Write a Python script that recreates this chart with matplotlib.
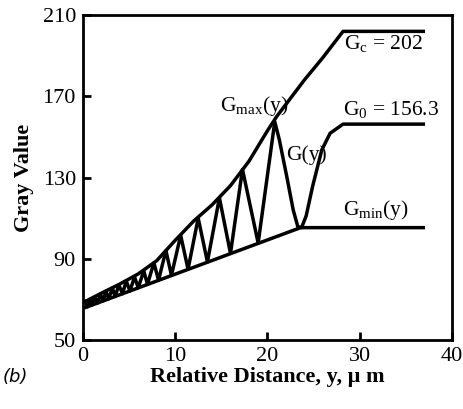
import matplotlib
matplotlib.use("Agg")
import matplotlib.pyplot as plt

plt.rcParams["font.family"] = ["Liberation Serif", "DejaVu Serif"]
plt.rcParams["mathtext.fontset"] = "custom"
plt.rcParams["mathtext.rm"] = "Liberation Serif"
plt.rcParams["mathtext.it"] = "Liberation Serif:italic"

# Envolvente superior G_max(y)
gmax_x = [0.3, 2, 4, 6, 8, 10, 12, 14, 16, 18, 20, 21, 22, 24, 26, 28.2, 36.9]
gmax_y = [69, 73, 77.5, 82.5, 89, 99, 108.5, 116.5, 126, 138, 153, 160, 166, 178, 189, 202, 202]

# Envolvente inferior G_min(y)
gmin_x = [0.3, 23.6, 36.9]
gmin_y = [66, 105.3, 105.3]

# Curva G(y): picos y valles
g_x = [0.3, 0.5, 0.8, 1.0, 1.3, 1.6, 1.9, 2.2, 2.5, 2.8, 3.2, 3.5, 3.9, 4.3, 4.7,
       5.1, 5.6, 6.0, 6.6, 7.0, 7.7, 8.2, 9.0, 9.6, 10.6, 11.4, 12.5, 13.5, 14.8,
       16.0, 17.3, 19.0, 20.8, 21.3, 22.1, 22.8, 23.3, 23.7, 24.2, 24.9, 25.9,
       26.8, 28.2, 36.9]
g_y = [69, 66.3, 70, 67.2, 71, 68.2, 72.5, 69.2, 74, 70.2, 75.5, 71.4, 77, 72.8, 79,
       74.1, 81, 75.7, 84, 77.4, 88, 79.4, 94, 81.8, 101.5, 84.8, 110, 88.4, 120,
       92.6, 134, 97.7, 157.5, 148.5, 130.5, 114, 105.8, 105.3, 111, 125.6, 143.6,
       151.8, 156.3, 156.3]

fig = plt.figure(figsize=(4.63, 4.09), dpi=100)
ax = fig.add_axes([0.179, 0.169, 0.797, 0.794])

ax.plot(gmax_x, gmax_y, color="black", lw=2.5, solid_joinstyle="round")
ax.plot(gmin_x, gmin_y, color="black", lw=2.5, solid_joinstyle="round")
ax.plot(g_x, g_y, color="black", lw=2.5, solid_joinstyle="round")

# Etiquetas de las curvas
ax.text(28.3, 196, r"G$_\mathrm{c}$ = 202", fontsize=15.5, va="center", ha="left")
ax.text(28.2, 163.5, r"G$_0$ = 156.3", fontsize=15.5, va="center", ha="left")
ax.text(22.3, 165, r"G$_\mathrm{max}$(y)", fontsize=15.5, va="center", ha="right")
ax.text(22.0, 141, "G(y)", fontsize=15.5, va="center", ha="left")
ax.text(28.2, 114, r"G$_\mathrm{min}$(y)", fontsize=15.5, va="center", ha="left")

ax.set_xlim(0, 40)
ax.set_ylim(50, 210)
ax.set_xticks([0, 10, 20, 30, 40])
ax.set_yticks([50, 90, 130, 170, 210])
ax.tick_params(direction="in", length=6, width=2, labelsize=16, pad=5)
for s in ax.spines.values():
    s.set_linewidth(2)

ax.set_xlabel(r"Relative Distance, y, μ m", fontsize=16, fontweight="bold", labelpad=1)
ax.set_ylabel("Gray Value", fontsize=16, fontweight="bold", labelpad=6)

fig.text(0.005, 0.065, "(b)", fontsize=13, style="italic", family="DejaVu Sans")

fig.savefig("out.png", dpi=100)
